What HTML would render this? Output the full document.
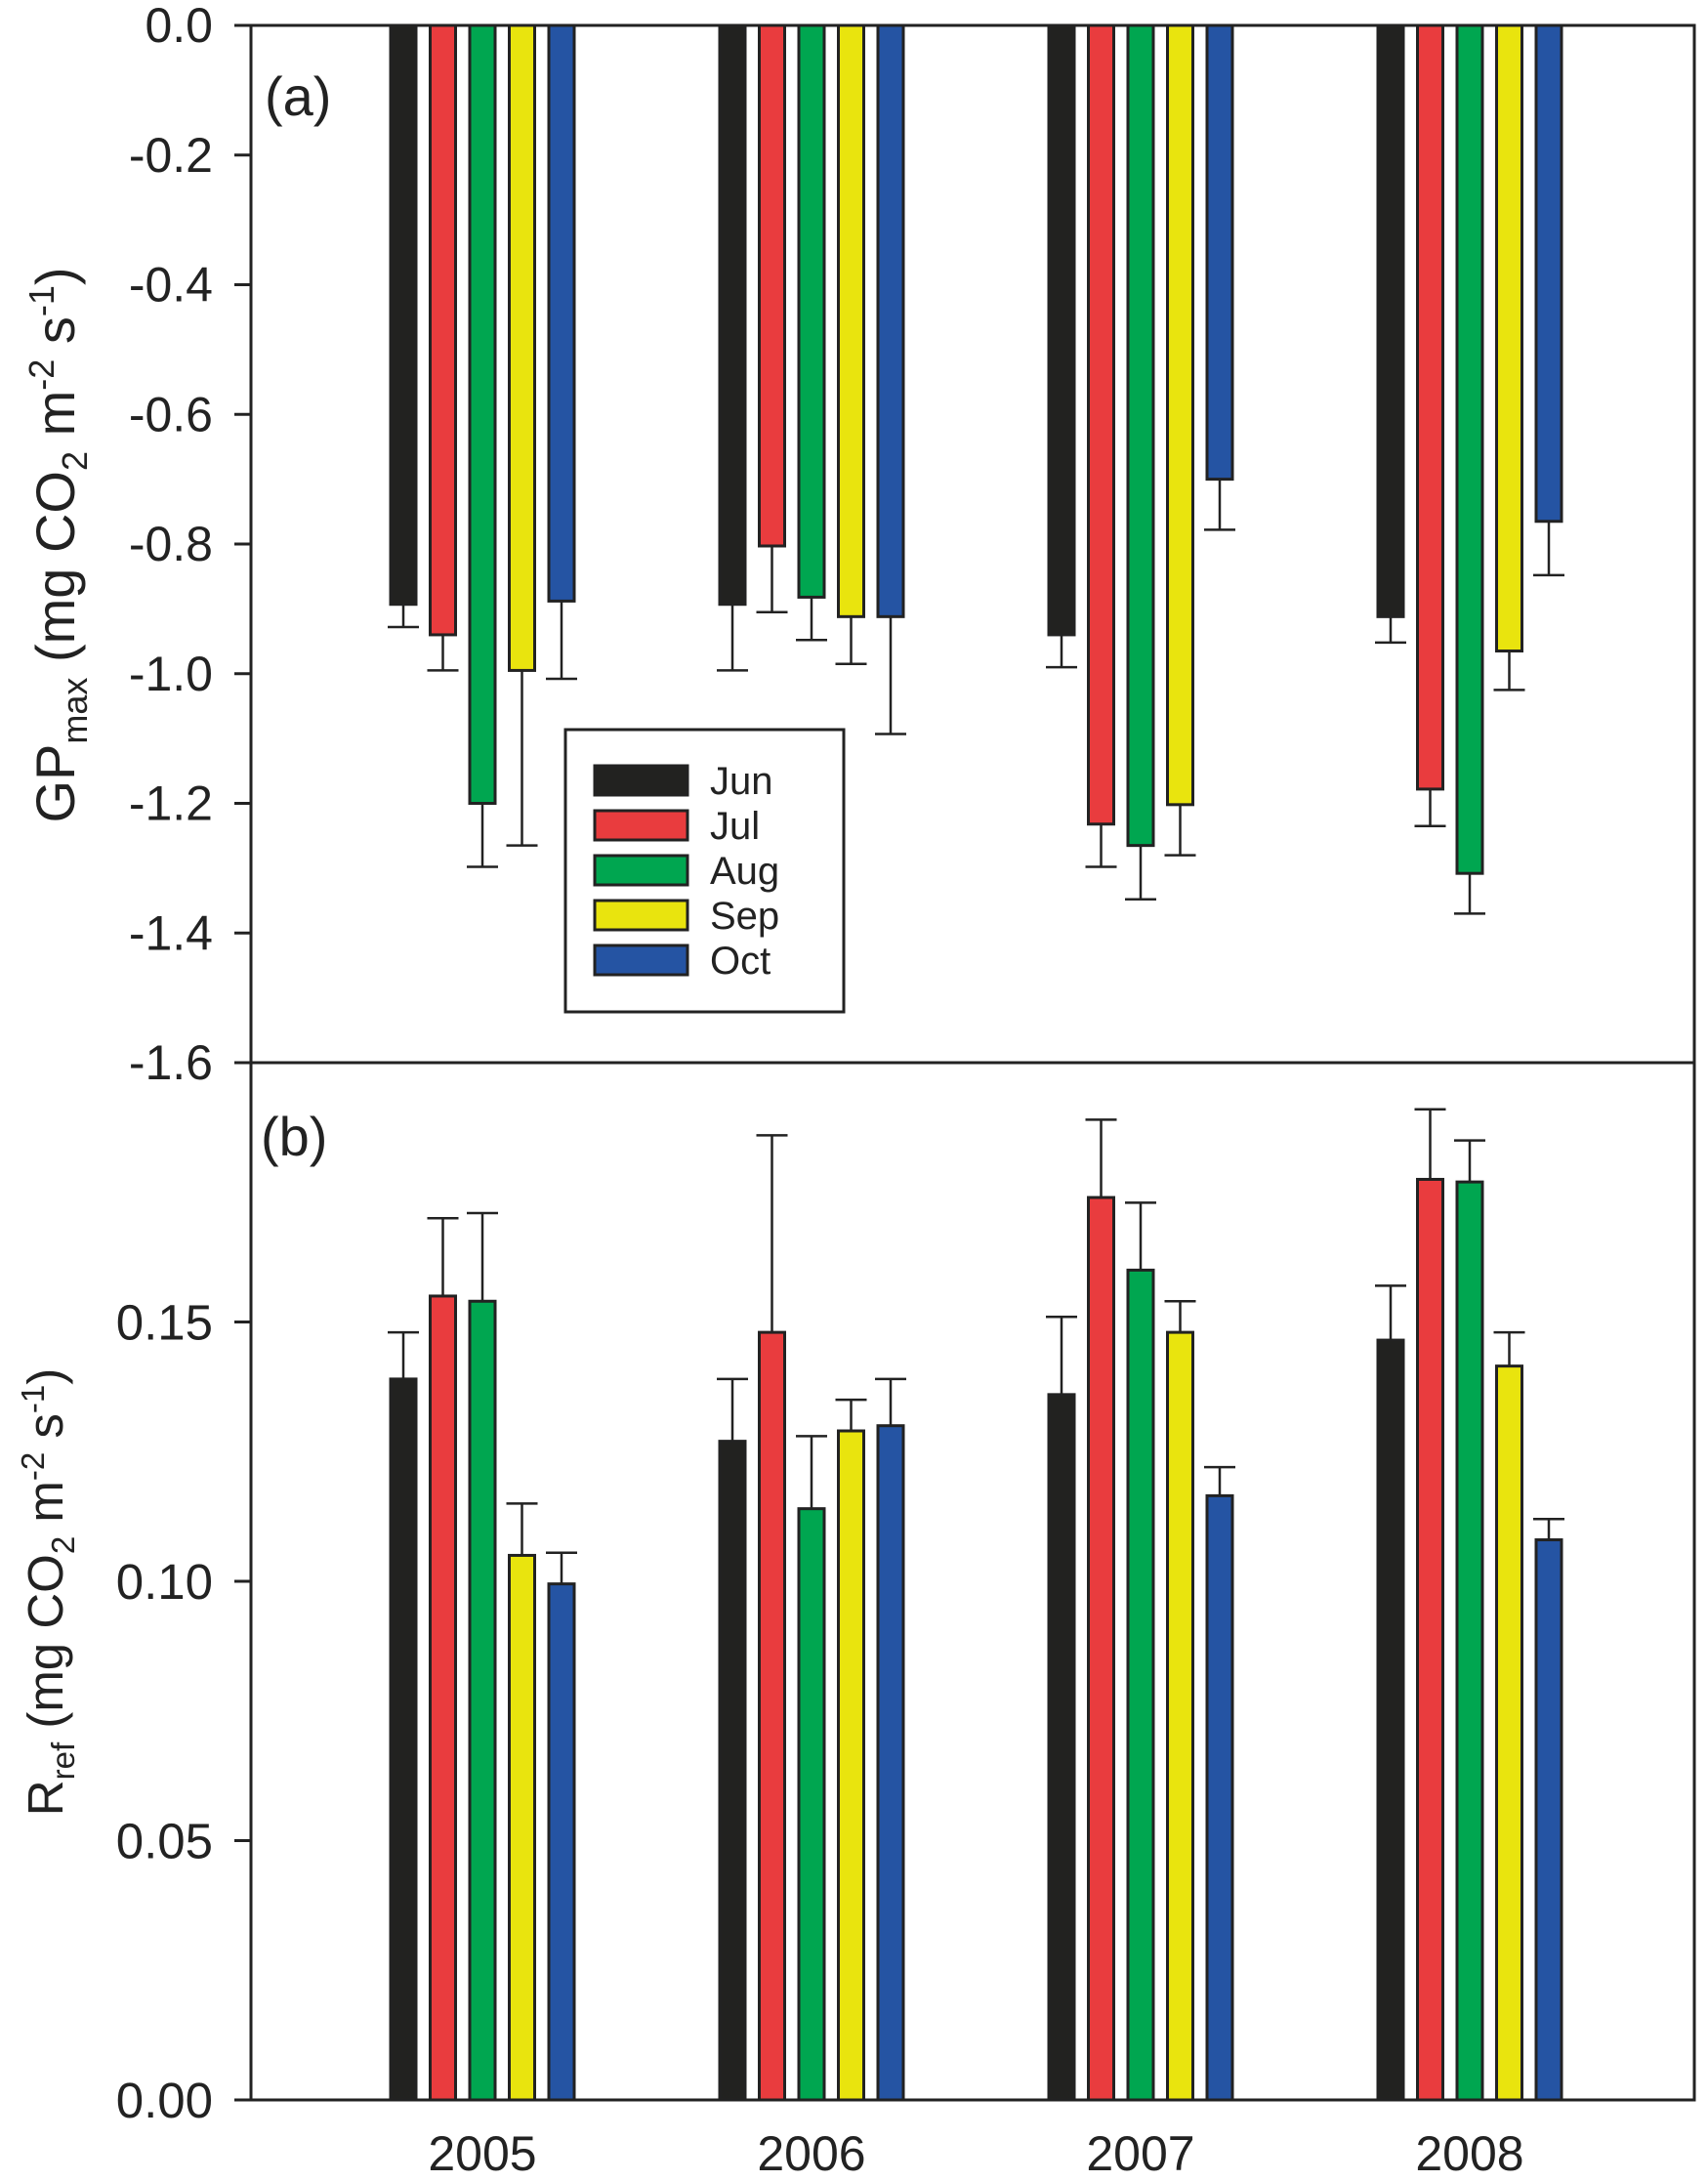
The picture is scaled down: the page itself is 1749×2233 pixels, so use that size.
<!DOCTYPE html>
<html><head><meta charset="utf-8"><style>
html,body{margin:0;padding:0;background:#fff;}
svg{display:block;font-family:"Liberation Sans",sans-serif;}
</style></head><body>
<svg id="chart" width="1749" height="2233" viewBox="0 0 1749 2233" xmlns="http://www.w3.org/2000/svg"></svg>
<script>
const years = ["2005","2006","2007","2008"];
const months = ["Jun","Jul","Aug","Sep","Oct"];
const colors = ["#222220","#e93c3e","#00a650","#e9e40e","#2554a3"];
// panel a: GPmax
const gpJun = [-0.893,-0.893,-0.94,-0.912];
const gpJul = [-0.94,-0.803,-1.232,-1.178];
const gpAug = [-1.2,-0.882,-1.265,-1.308];
const gpSep = [-0.995,-0.912,-1.202,-0.965];
const gpOct = [-0.888,-0.912,-0.70,-0.765];
const gpErrJun = [-0.928,-0.995,-0.99,-0.952];
const gpErrJul = [-0.995,-0.905,-1.298,-1.235];
const gpErrAug = [-1.298,-0.948,-1.348,-1.37];
const gpErrSep = [-1.265,-0.985,-1.28,-1.025];
const gpErrOct = [-1.008,-1.093,-0.778,-0.848];
const gpTicks = ["0.0","-0.2","-0.4","-0.6","-0.8","-1.0","-1.2","-1.4","-1.6"];
// panel b: Rref
const rJun = [0.139,0.127,0.136,0.1465];
const rJul = [0.155,0.148,0.174,0.1775];
const rAug = [0.154,0.114,0.160,0.177];
const rSep = [0.105,0.129,0.148,0.1415];
const rOct = [0.0995,0.130,0.1165,0.108];
const rErrJun = [0.148,0.139,0.151,0.157];
const rErrJul = [0.170,0.186,0.189,0.191];
const rErrAug = [0.171,0.128,0.173,0.185];
const rErrSep = [0.115,0.135,0.154,0.148];
const rErrOct = [0.1055,0.139,0.122,0.112];
const rTicks = ["0.00","0.05","0.10","0.15"];

const NS="http://www.w3.org/2000/svg";
const svg=document.getElementById('chart');
function mk(tag,attrs,parent){const e=document.createElementNS(NS,tag);for(const k in attrs)e.setAttribute(k,attrs[k]);(parent||svg).appendChild(e);return e;}
const L=257,R=1735,TA=26,MID=1088,BOT=2150;
const yA=v=>TA+(0-v)/1.6*(MID-TA);
const yB=v=>BOT-v/0.2*(BOT-MID);
const groupX=i=>494+i*337;
const barX=(i,m)=>groupX(i)+(m-2)*40.5;
const BW=26;

let f=mk('rect',{x:L,y:TA,width:R-L,height:BOT-TA,fill:'none',stroke:'#222','stroke-width':3});


let ml=mk('line',{x1:L,x2:R,y1:MID,y2:MID,stroke:'#222','stroke-width':3});



gpTicks.forEach((t,k)=>{const y=yA(-0.2*k);
 let l=mk('line',{x1:L-17,x2:L,y1:y,y2:y,stroke:'#222','stroke-width':3});
 
 
 let tx=mk('text',{x:218,y:y+17,'font-size':50,'text-anchor':'end',fill:'#222'});tx.textContent=t;
 
 
});
rTicks.forEach((t,k)=>{const y=yB(0.05*k);
 let l=mk('line',{x1:L-17,x2:L,y1:y,y2:y,stroke:'#222','stroke-width':3});
 
 
 let tx=mk('text',{x:218,y:y+18,'font-size':51,'text-anchor':'end',fill:'#222'});tx.textContent=t;
 
 
});
years.forEach((yr,i)=>{
 let tx=mk('text',{x:groupX(i),y:2222,'font-size':50,'text-anchor':'middle',fill:'#222'});tx.textContent=yr;
 
 
});

const gpVals=[gpJun,gpJul,gpAug,gpSep,gpOct], gpErr=[gpErrJun,gpErrJul,gpErrAug,gpErrSep,gpErrOct];
const rVals=[rJun,rJul,rAug,rSep,rOct], rErr=[rErrJun,rErrJul,rErrAug,rErrSep,rErrOct];
function drawErr(cx,y0,y1){
 let s=mk('line',{x1:cx,x2:cx,y1:y0,y2:y1,stroke:'#222','stroke-width':2.5});
 
 
 let c=mk('line',{x1:cx-16,x2:cx+16,y1:y1,y2:y1,stroke:'#222','stroke-width':2.5});
 
 
}
for(let m=0;m<5;m++){for(let i=0;i<4;i++){
 const x=barX(i,m)-BW/2, cx=barX(i,m);
 const ya=yA(gpVals[m][i]);
 drawErr(cx,ya,yA(gpErr[m][i]));
 let b=mk('rect',{x:x,y:TA,width:BW,height:ya-TA,fill:colors[m],stroke:'#222','stroke-width':3});
 
 
 const yb=yB(rVals[m][i]);
 drawErr(cx,yb,yB(rErr[m][i]));
 let b2=mk('rect',{x:x,y:yb,width:BW,height:BOT-yb,fill:colors[m],stroke:'#222','stroke-width':3});
 
 
}}

let lg=mk('rect',{x:579,y:747,width:285,height:289,fill:'#fff',stroke:'#222','stroke-width':3});


months.forEach((mo,m)=>{const cy=799+m*46;
 let s=mk('rect',{x:609,y:cy-15,width:95,height:30,fill:colors[m],stroke:'#222','stroke-width':3});
 
 
 let t=mk('text',{x:727,y:cy+14,'font-size':40,fill:'#222'});t.textContent=mo;
 
 
});

let pa=mk('text',{x:271,y:118,'font-size':56,fill:'#222'});pa.textContent='(a)';


let pb=mk('text',{x:267,y:1183,'font-size':56,fill:'#222'});pb.textContent='(b)';



let ta=mk('text',{x:0,y:0,'font-size':56,fill:'#222','text-anchor':'middle',transform:'translate(76,558) rotate(-90)'});
ta.innerHTML='GP<tspan font-size="36" dy="13">max</tspan><tspan dy="-13"> (mg CO</tspan><tspan font-size="36" dy="13">2</tspan><tspan dy="-13"> m</tspan><tspan font-size="36" dy="-21">-2</tspan><tspan dy="21"> s</tspan><tspan font-size="36" dy="-21">-1</tspan><tspan dy="21">)</tspan>';


let tb=mk('text',{x:0,y:0,'font-size':51,fill:'#222','text-anchor':'middle',transform:'translate(64,1630) rotate(-90)'});
tb.innerHTML='R<tspan font-size="33" dy="12">ref</tspan><tspan dy="-12"> (mg CO</tspan><tspan font-size="33" dy="12">2</tspan><tspan dy="-12"> m</tspan><tspan font-size="33" dy="-19">-2</tspan><tspan dy="19"> s</tspan><tspan font-size="33" dy="-19">-1</tspan><tspan dy="19">)</tspan>';


</script>
</body></html>
